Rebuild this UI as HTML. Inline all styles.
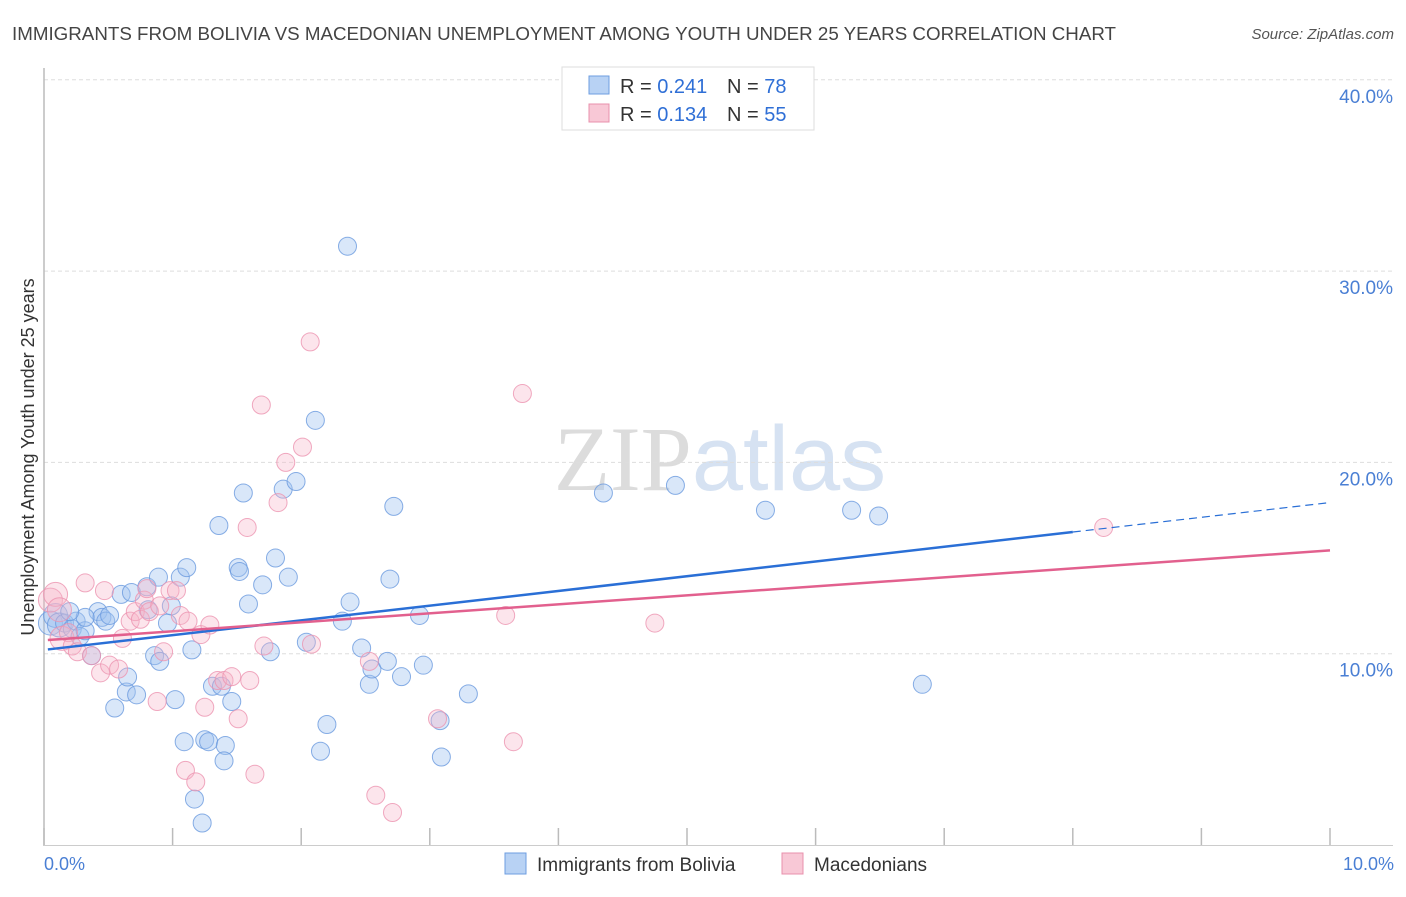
<!DOCTYPE html>
<html><head><meta charset="utf-8"><style>
body{margin:0;background:#fff;font-family:"Liberation Sans",sans-serif;}
svg text{font-family:"Liberation Sans",sans-serif;}
</style></head><body>
<svg id="chart" width="1406" height="892" xmlns="http://www.w3.org/2000/svg">
<text x="12" y="40" font-size="18" fill="#444" textLength="1104" lengthAdjust="spacingAndGlyphs">IMMIGRANTS FROM BOLIVIA VS MACEDONIAN UNEMPLOYMENT AMONG YOUTH UNDER 25 YEARS CORRELATION CHART</text>
<text x="1394" y="39" font-size="15" fill="#555" font-style="italic" text-anchor="end">Source: ZipAtlas.com</text>
<text x="720" y="490" font-size="92" fill="#e4e4e4" text-anchor="middle" font-family="Liberation Serif"><tspan fill="#dcdcdc" font-family="Liberation Serif">ZIP</tspan><tspan fill="#d6e2f2" font-family="Liberation Sans">atlas</tspan></text>
<g id="grid"></g>
<line x1="44" y1="68" x2="44" y2="846" stroke="#bbb" stroke-width="1.5"/>
<line x1="44" y1="845.5" x2="1393" y2="845.5" stroke="#ccc" stroke-width="1"/>
<g id="xticks"></g>
<g id="pts"></g>
<g id="lines"></g>
<text transform="translate(34,457) rotate(-90)" font-size="18" fill="#333" text-anchor="middle">Unemployment Among Youth under 25 years</text>
<text x="44" y="870" font-size="18" fill="#4a7fd4">0.0%</text>
<text x="1394" y="870" font-size="18" fill="#4a7fd4" text-anchor="end">10.0%</text>
<g>
<rect x="562" y="67" width="252" height="63" fill="#fff" stroke="#ddd"/>
<rect x="589" y="76" width="20" height="18" fill="#b8d2f4" stroke="#6e9ee0"/>
<text x="620" y="93" font-size="20" fill="#333">R = <tspan fill="#2f6fd6">0.241</tspan></text>
<text x="727" y="93" font-size="20" fill="#333">N = <tspan fill="#2f6fd6">78</tspan></text>
<rect x="589" y="104" width="20" height="18" fill="#f8c8d6" stroke="#e890ac"/>
<text x="620" y="121" font-size="20" fill="#333">R = <tspan fill="#2f6fd6">0.134</tspan></text>
<text x="727" y="121" font-size="20" fill="#333">N = <tspan fill="#2f6fd6">55</tspan></text>
</g>
<g>
<rect x="505" y="853" width="21" height="21" fill="#b8d2f4" stroke="#6e9ee0"/>
<text x="537" y="871" font-size="19" fill="#333">Immigrants from Bolivia</text>
<rect x="782" y="853" width="21" height="21" fill="#f8c8d6" stroke="#e890ac"/>
<text x="814" y="871" font-size="19" fill="#333">Macedonians</text>
</g>
</svg>
<script>
const yTicks=[10,20,30,40];
const xTicks=[0,1,2,3,4,5,6,7,8,9,10];
const blueX=[0.05,0.09,0.12,0.16,0.22,0.25,0.28,0.32,0.37,0.42,0.45,0.48,0.51,0.55,0.6,0.64,0.65,0.68,0.72,0.8,0.81,0.86,0.89,0.9,0.96,0.99,1.02,1.06,1.09,1.11,1.15,1.17,1.23,1.25,1.28,1.31,1.36,1.38,1.41,1.4,1.46,1.51,1.52,1.55,1.59,1.7,1.76,1.8,1.86,1.9,1.96,2.04,2.11,2.15,2.2,2.32,2.36,2.38,2.47,2.53,2.55,2.67,2.69,2.72,2.78,2.92,2.95,3.08,3.09,3.3,4.35,4.91,5.61,6.28,6.49,6.83,0.32,0.2];
const blueY=[11.6,12.0,11.5,11.6,11.3,11.7,10.9,11.2,9.9,12.2,11.9,11.7,12.0,7.16,13.1,8.0,8.78,13.2,7.85,13.5,12.3,9.9,14.0,9.6,11.6,12.5,7.6,14.0,5.4,14.5,10.2,2.4,1.15,5.5,5.4,8.3,16.7,8.3,5.2,4.4,7.5,14.5,14.3,18.4,12.6,13.6,10.1,15.0,18.6,14.0,19.0,10.6,22.2,4.9,6.3,11.7,31.3,12.7,10.3,8.4,9.2,9.6,13.9,17.7,8.8,12.0,9.4,6.5,4.6,7.9,18.4,18.8,17.5,17.5,17.2,8.4,11.9,12.2];
const pinkX=[0.05,0.09,0.12,0.14,0.19,0.22,0.26,0.32,0.37,0.44,0.47,0.51,0.58,0.61,0.67,0.71,0.75,0.78,0.8,0.82,0.88,0.9,0.93,0.98,1.03,1.06,1.1,1.12,1.18,1.22,1.25,1.29,1.35,1.4,1.46,1.51,1.58,1.6,1.64,1.69,1.71,1.82,1.88,2.01,2.07,2.08,2.53,2.58,2.71,3.06,3.59,3.65,3.72,4.75,8.24];
const pinkY=[12.8,13.1,12.3,10.8,11.1,10.4,10.1,13.7,9.9,9.0,13.3,9.4,9.2,10.8,11.7,12.2,11.8,12.8,13.4,12.2,7.5,12.5,10.1,13.3,13.3,12.0,3.9,11.7,3.3,11.0,7.2,11.5,8.6,8.6,8.8,6.6,16.6,8.6,3.7,23.0,10.4,17.9,20.0,20.8,26.3,10.5,9.6,2.6,1.7,6.6,12.0,5.4,23.6,11.6,16.6];
const blueTrend=[10.2,17.9];
const pinkTrend=[10.7,15.4];
const X=v=>44+v*128.6, Y=v=>845-v*19.13;
const NS='http://www.w3.org/2000/svg';
function mk(t,a,p){const e=document.createElementNS(NS,t);for(const k in a)e.setAttribute(k,a[k]);p.appendChild(e);return e;}
const grid=document.getElementById('grid');
yTicks.forEach(t=>{
 const l=mk('line',{x1:44,x2:1393,y1:Y(t),y2:Y(t),stroke:'#ddd','stroke-dasharray':'4,3'},grid);
 
 
 const tx=mk('text',{x:1393,y:Y(t)+23,'font-size':19,fill:'#4a7fd4','text-anchor':'end'},grid);
 tx.textContent=t.toFixed(1)+'%';
 
 
});
const xt=document.getElementById('xticks');
xTicks.forEach(t=>{
 const l=mk('line',{x1:X(t),x2:X(t),y1:828,y2:845,stroke:'#bbb','stroke-width':1.5},xt);
 
 
});
const pts=document.getElementById('pts');
function dots(xs,ys,fill,stroke,name){
 xs.forEach((x,i)=>{
  const r=x<0.15?12:9;
  const c=mk('circle',{cx:X(x),cy:Y(ys[i]),r:r,fill:fill,stroke:stroke,'stroke-width':1,'stroke-opacity':0.8},pts);
  
  
 });
}
dots(blueX,blueY,'rgba(160,196,240,0.4)','#6a9ade','bolivia-point');
dots(pinkX,pinkY,'rgba(245,180,200,0.35)','#ec94b0','macedonians-point');
const ln=document.getElementById('lines');
const bx1=0.03,bx2=8,bx3=10;
const by=x=>blueTrend[0]+(blueTrend[1]-blueTrend[0])*x/10;
const b1=mk('line',{x1:X(bx1),y1:Y(by(bx1)),x2:X(bx2),y2:Y(by(bx2)),stroke:'#2a6fd6','stroke-width':2.5},ln);


const b2=mk('line',{x1:X(bx2),y1:Y(by(bx2)),x2:X(bx3),y2:Y(by(bx3)),stroke:'#2a6fd6','stroke-width':1.2,'stroke-dasharray':'8,5'},ln);


const py=x=>pinkTrend[0]+(pinkTrend[1]-pinkTrend[0])*x/10;
const p1=mk('line',{x1:X(bx1),y1:Y(py(bx1)),x2:X(10),y2:Y(py(10)),stroke:'#e2608e','stroke-width':2.5},ln);


</script>
</body></html>
